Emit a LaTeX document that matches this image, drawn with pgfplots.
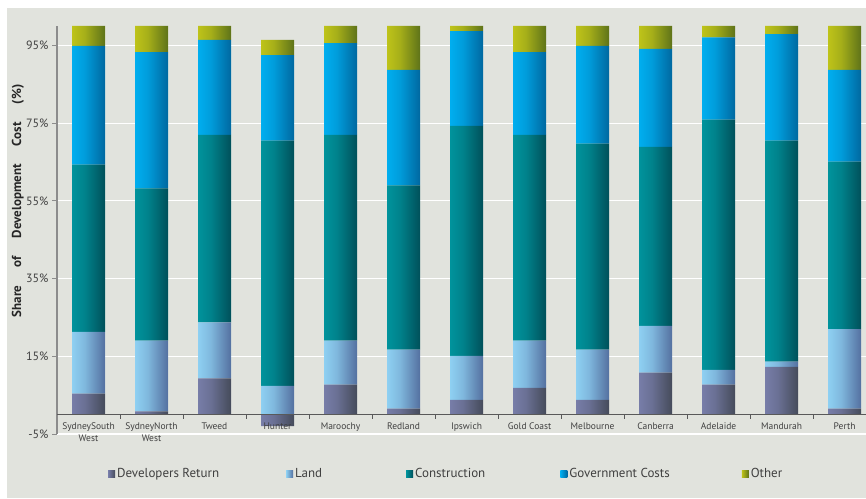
\documentclass[border=0pt]{standalone}
\usepackage{pgfplots}
\pgfplotsset{compat=1.18}
\usepackage{pgfplotstable}
\usepackage{fontspec}
\setmainfont{PT Sans}

\definecolor{bgcol}{HTML}{E1E3DD}
\definecolor{drL}{HTML}{777DA8}
\definecolor{drR}{HTML}{454B5A}
\definecolor{landL}{HTML}{8ED0F2}
\definecolor{landR}{HTML}{5470A0}
\definecolor{conL}{HTML}{00939C}
\definecolor{conR}{HTML}{00505A}
\definecolor{govL}{HTML}{00AEEF}
\definecolor{govR}{HTML}{0068A0}
\definecolor{othL}{HTML}{BEC319}
\definecolor{othR}{HTML}{5E7319}

% one path holds all 13 bars of a series, so the shading repeats once per bar
% (bars span 25bp..75bp of the shading; 63pt pitch, 33pt bars)
\newcommand\makebarshading[3]{%
  \def\stops{color(0bp)=(#2)}%
  \foreach \i in {0,...,12}{%
    \pgfmathsetmacro\sl{25+3.99240*\i}%
    \pgfmathsetmacro\sm{\sl+0.80}%
    \pgfmathsetmacro\sr{\sl+2.0911}%
    \pgfmathsetmacro\sn{\sr+0.005}%
    \xdef\stops{\stops; color(\sl bp)=(#2); color(\sm bp)=(#2!75!#3); color(\sr bp)=(#3); color(\sn bp)=(#2)}%
  }%
  \xdef\stops{\stops; color(100bp)=(#2)}%
  \edef\tmp{\noexpand\pgfdeclarehorizontalshading{#1}{100bp}{\stops}}\tmp
}
\makebarshading{shDR}{drL}{drR}
\makebarshading{shLand}{landL}{landR}
\makebarshading{shCon}{conL}{conR}
\makebarshading{shGov}{govL}{govR}
\makebarshading{shOth}{othL}{othR}

% share of development cost, % (negative values stack below zero on their own)
\pgfplotstableread{
x   dr     land   constr  gov    other
0   5.4    15.9   43.0    30.6   5.1
1   0.8    18.2   39.2    35.1   6.7
2   9.3    14.4   48.3    24.4   3.6
3   -3.0   7.4    63.1    22.0   3.9
4   7.7    11.3   53.0    23.6   4.4
5   1.5    15.2   42.3    29.7   11.3
6   3.8    11.3   59.2    24.4   1.3
7   6.9    12.1   53.0    21.3   6.7
8   3.8    12.9   53.0    25.2   5.1
9   10.8   12.0   46.1    25.2   5.9
10  7.7    3.8    64.4    21.2   2.9
11  12.3   1.3    56.9    27.4   2.1
12  1.5    20.5   43.1    23.6   11.3
}\costdata

\pgfplotsset{
  frame/.style={
    at={(57pt,64pt)}, anchor=south west,
    scale only axis, width=809pt, height=408pt,
    xmin=-0.5, xmax=12.34, ymin=-5, ymax=100,
    enlargelimits=false,
  }
}

\begin{document}
\begin{tikzpicture}
\useasboundingbox (0pt,0pt) rectangle (866pt,498pt);
\fill[white] (0pt,0pt) rectangle (866pt,498pt);
\fill[bgcol] (7pt,0pt) rectangle (866pt,490pt);

\begin{axis}[
    frame,
    ybar stacked, bar width=33pt,
    axis x line=none, axis y line=left,
    axis line style={-},
    y axis line style={draw=black!45, line width=1.3pt},
    tick align=outside,
    ytick={-5,15,35,55,75,95},
    yticklabel={\pgfmathprintnumber[assume math mode=true]{\tick}\%},
    yticklabel style={font=\fontsize{12}{14}\selectfont, text=black!75},
    major y tick style={draw=black!45, line width=0.8pt},
    major tick length=5pt,
    ymajorgrids,
    major grid style={white, line width=1.2pt},
    legend columns=5,
    legend style={draw=none, fill=none, inner sep=0pt,
        at={(axis description cs:0.063,-0.098)}, anchor=west,
        font=\fontsize{13}{15}\selectfont, text=black!75,
        /tikz/column 2/.style={column sep=65pt},
        /tikz/column 4/.style={column sep=82pt},
        /tikz/column 6/.style={column sep=73pt},
        /tikz/column 8/.style={column sep=70pt}},
    legend image code/.code={\path[#1] (0pt,-3.5pt) rectangle (7pt,3.5pt);},
]
\addplot[draw=none, shade, shading=shDR,
    legend image post style={left color=drL, right color=drR}]
    table[x=x, y=dr] {\costdata};
\addlegendentry{Developers Return}
\addplot[draw=none, shade, shading=shLand,
    legend image post style={left color=landL, right color=landR}]
    table[x=x, y=land] {\costdata};
\addlegendentry{Land}
\addplot[draw=none, shade, shading=shCon,
    legend image post style={left color=conL, right color=conR}]
    table[x=x, y=constr] {\costdata};
\addlegendentry{Construction}
\addplot[draw=none, shade, shading=shGov,
    legend image post style={left color=govL, right color=govR}]
    table[x=x, y=gov] {\costdata};
\addlegendentry{Government Costs}
\addplot[draw=none, shade, shading=shOth,
    legend image post style={left color=othL, right color=othR}]
    table[x=x, y=other] {\costdata};
\addlegendentry{Other}
\end{axis}

% x axis line at zero with its category names, drawn over the bars
\begin{axis}[
    frame,
    axis x line=middle, axis y line=none,
    axis line style={-, draw=black!65, line width=0.8pt},
    hide obscured x ticks=false,
    tick align=outside,
    xtick={0,...,12},
    xticklabels={SydneySouth\\West, SydneyNorth\\West, Tweed, Hunter, Maroochy, Redland, Ipswich, Gold Coast, Melbourne, Canberra, Adelaide, Mandurah, Perth},
    xticklabel style={align=center, font=\fontsize{9.5}{12}\selectfont, text=black!75},
    major x tick style={draw=none},
    minor xtick={0.5,1.5,...,11.5},
    minor x tick style={draw=black!65, line width=0.8pt},
    minor tick length=4pt,
]
\end{axis}

\node[rotate=90, font=\bfseries\fontsize{13}{15}\selectfont, text=black!85]
    at (18pt,297pt) {Share\hspace{1.4em}of\hspace{1.4em}Development\hspace{1.4em}Cost\hspace{1.4em}(\%)};
\end{tikzpicture}
\end{document}
